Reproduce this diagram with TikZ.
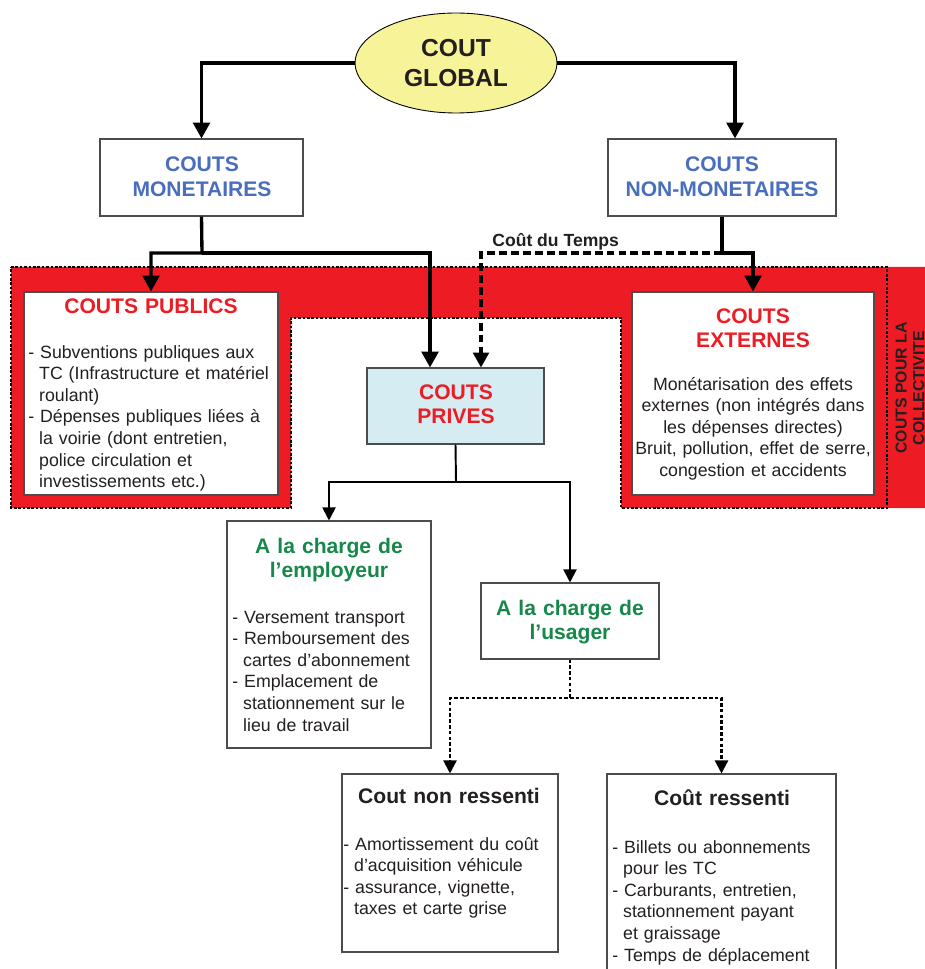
\documentclass[tikz,border=0pt]{standalone}
\usepackage{fontspec}
\setmainfont{Liberation Sans}
\usetikzlibrary{arrows.meta, positioning, shapes.geometric, fit}

\definecolor{bandred}{HTML}{ED1C24}
\definecolor{ttlblue}{HTML}{4A6EBE}
\definecolor{ttlgreen}{HTML}{15884A}
\definecolor{privfill}{HTML}{D4ECF2}
\definecolor{ellfill}{HTML}{F7F399}
\definecolor{txtgray}{HTML}{231F20}

\newcommand{\ind}{\hspace*{0.61em}}

\begin{document}
\begin{tikzpicture}[x=0.02cm, y=-0.02cm,
  box/.style={draw=black!70, line width=0.6pt, fill=white, inner sep=0pt},
  head/.style={font=\bfseries\fontsize{12}{14.2}\selectfont, align=center,
    text width=4.4cm, inner sep=0pt, anchor=base},
  body/.style={font=\fontsize{10.1}{12.3}\selectfont, text=txtgray, align=left,
    text width=5cm, inner sep=0pt, anchor=base west},
  bigline/.style={line width=1.9pt},
  bigarrow/.style={bigline, -{Triangle[length=9pt,width=9.5pt]}},
  smallline/.style={line width=1.1pt},
  smallarrow/.style={smallline, -{Triangle[length=7.5pt,width=7.5pt]}},
  dotline/.style={line width=1.3pt, dash pattern=on 2pt off 1.3pt},
  dotarrow/.style={dotline, -{Triangle[length=7.5pt,width=7.5pt]}},
  timearrow/.style={line width=1.8pt, dash pattern=on 4.5pt off 2.3pt,
    -{Triangle[length=8.5pt,width=9pt]}},
  bandline/.style={line width=0.6pt, dash pattern=on 1.5pt off 1pt}]
  \useasboundingbox (0,0) rectangle (925,969);
  \clip (0,0) rectangle (925,969);

  % Bande rouge : couts pour la collectivite
  \fill[bandred] (11,267) -- (925,267) -- (925,508) -- (621,508) -- (621,318)
    -- (291,318) -- (291,508) -- (11,508) -- cycle;
  \draw[bandline] (11,267) -- (887,267) -- (887,508) -- (621,508) -- (621,318)
    -- (291,318) -- (291,508) -- (11,508) -- cycle;
  \node[rotate=90, font=\bfseries\fontsize{9}{10}\selectfont, align=center,
    text=txtgray] (collect) at (910,388) {COUTS POUR LA\\COLLECTIVITE};

  % Cout global
  \node[ellipse, draw=black, line width=0.5pt, fill=ellfill, minimum width=4.04cm,
    minimum height=2cm, inner sep=0pt, align=center, text=txtgray,
    font=\bfseries\fontsize{14}{17}\selectfont] (global) at (456,63) {COUT\\GLOBAL};

  % Monetaires / non-monetaires
  \node[box, fit={(100,139) (303,216)}] (monet) {};
  \node[head, text=ttlblue] (monetT) at (202,172) {COUTS\\MONETAIRES};
  \node[box, fit={(608,139) (836,216)}] (nonmonet) {};
  \node[head, text=ttlblue] (nonmonetT) at (722,172) {COUTS\\NON-MONETAIRES};

  % Couts publics
  \node[box, fit={(24,292) (278,495)}] (publics) {};
  \node[head, text=bandred] (publicsT) at (151,313) {COUTS PUBLICS};
  \node[body] (publicsB) at (28,358) {- Subventions publiques aux\\\ind TC (Infrastructure et matériel\\\ind roulant)\\- Dépenses publiques liées à\\\ind la voirie (dont entretien,\\\ind police circulation et\\\ind investissements etc.)};

  % Couts externes
  \node[box, fit={(632,292) (874,495)}] (externes) {};
  \node[head, text=bandred] (externesT) at (753,323) {COUTS\\EXTERNES};
  \node[body, align=center, anchor=base] (externesB) at (753,390) {Monétarisation des effets\\externes (non intégrés dans\\les dépenses directes)\\Bruit, pollution, effet de serre,\\congestion et accidents};

  % Couts prives
  \node[box, fill=privfill, fit={(367,368) (544,444)}] (prives) {};
  \node[head, text=bandred] (privesT) at (456,399) {COUTS\\PRIVES};

  % Employeur / usager
  \node[box, fit={(227,521) (431,748)}] (employeur) {};
  \node[head, text=ttlgreen] (employeurT) at (329,553) {A la charge de\\l’employeur};
  \node[body] (employeurB) at (232,623) {- Versement transport\\- Remboursement des\\\ind cartes d’abonnement\\- Emplacement de\\\ind stationnement sur le\\\ind lieu de travail};
  \node[box, fit={(481,583) (659,659)}] (usager) {};
  \node[head, text=ttlgreen] (usagerT) at (570,615) {A la charge de\\l’usager};

  % Ressenti / non ressenti
  \node[box, fit={(342,774) (558,952)}] (nonressenti) {};
  \node[head, text=txtgray] (nonressentiT) at (449,803) {Cout non ressenti};
  \node[body] (nonressentiB) at (343,850) {- Amortissement du coût\\\ind d’acquisition véhicule\\- assurance, vignette,\\\ind taxes et carte grise};
  \node[box, fit={(607,774) (836,990)}] (ressenti) {};
  \node[head, text=txtgray] (ressentiT) at (722,805) {Coût ressenti};
  \node[body] (ressentiB) at (612,853) {- Billets ou abonnements\\\ind pour les TC\\- Carburants, entretien,\\\ind stationnement payant\\\ind et graissage\\- Temps de déplacement};

  % Liaisons
  \coordinate (mJ) at (202,253);
  \coordinate (nJ) at (722,253);
  \coordinate (pJ) at (456,482);
  \coordinate (uJ) at (570,698);
  \draw[bigarrow] (global.west) -| (monet.north);
  \draw[bigarrow] (global.east) -| ([xshift=0.26cm]nonmonet.north);
  \draw[bigarrow] (monet.south) -- (mJ) -| (publics.north);
  \draw[bigarrow] (mJ) -| ([xshift=-0.51cm]prives.north);
  \draw[bigarrow] (nonmonet.south) -- (nJ) -| (externes.north);
  \draw[timearrow] (nJ) -| ([xshift=0.51cm]prives.north);
  \node[font=\bfseries\fontsize{10}{12}\selectfont, text=txtgray, anchor=base west,
    inner sep=0pt] (tempsT) at (492,247) {Coût du Temps};
  \draw[smallarrow] (prives.south) -- (pJ) -| (employeur.north);
  \draw[smallarrow] (pJ) -| (usager.north);
  \draw[dotarrow] (usager.south) -- (uJ) -| (nonressenti.north);
  \draw[dotarrow] (uJ) -| (ressenti.north);
\end{tikzpicture}
\end{document}
